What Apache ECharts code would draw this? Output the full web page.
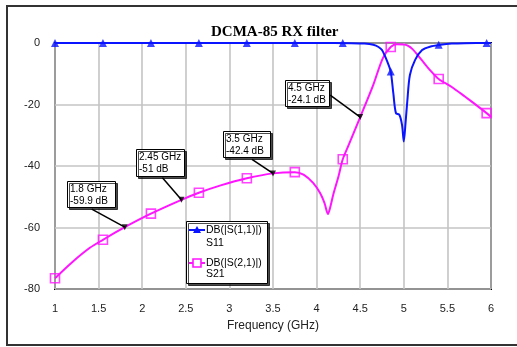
<!DOCTYPE html>
<html>
<head>
<meta charset="utf-8">
<script src="https://cdn.jsdelivr.net/npm/echarts@6/dist/echarts.min.js"></script>
<style>
html,body{margin:0;padding:0;background:#fff;}
#chart{width:517px;height:347px;}
</style>
</head>
<body>
<div id="chart"></div>
<script>
// ---- data ----
const titleText = 'DCMA-85 RX filter';
const xName = 'Frequency (GHz)';
const xTicks = [1, 1.5, 2, 2.5, 3, 3.5, 4, 4.5, 5, 5.5, 6];
const yTicks = [-80, -60, -40, -20, 0];

// S21 curve
const s21Freq = [1.0, 1.2, 1.4, 1.55, 1.8, 2.1, 2.45, 2.65, 2.9, 3.2, 3.5, 3.75, 3.85, 3.96, 4.04, 4.09, 4.13, 4.16, 4.19, 4.25, 4.3, 4.36, 4.5, 4.65, 4.76, 4.85, 4.92, 5.0, 5.04, 5.1, 5.19, 5.3, 5.4, 5.55, 5.7, 5.85, 5.95, 6.0];
const s21Db   = [-76.5, -71.2, -66.6, -64, -59.9, -55.5, -51, -48.7, -46.3, -44, -42.4, -42, -42.8, -45.5, -48.8, -52, -55.6, -53, -49.4, -43.5, -37.8, -33.7, -24.1, -13.6, -4.9, -1.3, -0.4, -0.5, -0.8, -2, -5, -8.8, -11.7, -14.3, -17.4, -20.6, -22.8, -24];
// S21 marker points
const s21MarkFreq = [1.0, 1.55, 2.1, 2.65, 3.2, 3.75, 4.3, 4.85, 5.4, 5.95];
const s21MarkDb   = [-76.5, -64, -55.5, -48.7, -44, -42, -37.8, -1.3, -11.7, -22.8];

// S11 curve
const s11Freq = [1.0, 2.0, 3.0, 4.0, 4.4, 4.55, 4.65, 4.71, 4.75, 4.81, 4.85, 4.88, 4.91, 4.95, 4.98, 5.0, 5.02, 5.04, 5.07, 5.13, 5.21, 5.3, 5.42, 5.55, 5.7, 6.0];
const s11Db   = [0, 0, 0, 0, -0.05, -0.2, -0.6, -1.3, -2.3, -6, -9.3, -16.4, -22.8, -23.4, -26.7, -32, -26, -19, -10.4, -5.5, -2.3, -1.2, -0.6, -0.2, -0.05, 0];
// S11 marker points
const s11MarkFreq = [1.0, 1.55, 2.1, 2.65, 3.2, 3.75, 4.3, 4.85, 5.4, 5.95];
const s11MarkDb   = [0, 0, 0, 0, 0, 0, 0, -9.3, -0.6, 0];

// annotated points
const annFreq = [1.8, 2.45, 3.5, 4.5];
const annDb   = [-59.9, -51, -42.4, -24.1];

const legendNames = ['DB(|S(1,1)|)', 'DB(|S(2,1)|)'];
const legendSub = ['S11', 'S21'];

// ---- layout / style ----
const BLUE = '#0a14ff';
const MAG = '#ff14ff';
const FONT = '"Liberation Sans", Arial, sans-serif';
const annBox = [ // dx, dy (box top-left from point), w, h, leader start dx, dy
  [-58, -46, 48, 26, -33, -18],
  [-45, -51, 48, 27, -19, -22],
  [-50, -42, 47, 26, -21, -14],
  [-75, -37, 44, 26, -30, -22]
];

const zip = (a, b) => a.map((v, i) => [v, b[i]]);

const chart = echarts.init(document.getElementById('chart'), null, {renderer: 'canvas'});
const option = {
  animation: false,
  backgroundColor: '#fff',
  title: {
    text: titleText, left: 206, top: 20,
    textStyle: {fontFamily: '"Liberation Serif", "Times New Roman", serif', fontWeight: 'bold', fontSize: 15, color: '#000'}
  },
  grid: {left: 55, top: 43, width: 436, height: 246, show: true, borderColor: '#000', borderWidth: 2, backgroundColor: 'transparent'},
  xAxis: {
    type: 'value', min: xTicks[0], max: xTicks[xTicks.length - 1], interval: 0.5,
    name: xName, nameLocation: 'middle', nameGap: 31,
    nameTextStyle: {fontFamily: FONT, fontSize: 12, color: '#222'},
    axisLine: {show: false}, axisTick: {show: false},
    axisLabel: {fontFamily: FONT, fontSize: 11, color: '#222', margin: 14},
    splitLine: {show: true, lineStyle: {color: '#c4c4c4', width: 1.6}}
  },
  yAxis: {
    type: 'value', min: yTicks[0], max: yTicks[yTicks.length - 1], interval: 20,
    axisLine: {show: false}, axisTick: {show: false},
    axisLabel: {fontFamily: FONT, fontSize: 11, color: '#222', margin: 15},
    splitLine: {show: true, lineStyle: {color: '#c4c4c4', width: 1.6}}
  },
  series: [
    {name: 'S21', type: 'line', data: zip(s21Freq, s21Db), symbol: 'none', smooth: 0.3,
     lineStyle: {color: MAG, width: 2}, z: 3},
    {name: 'S11', type: 'line', data: zip(s11Freq, s11Db), symbol: 'none', smooth: 0.3,
     lineStyle: {color: BLUE, width: 2}, z: 4},
    {name: 'S21m', type: 'scatter', data: zip(s21MarkFreq, s21MarkDb), symbol: 'rect', symbolSize: 9,
     itemStyle: {color: 'rgba(255,255,255,0)', borderColor: MAG, borderWidth: 1.6}, z: 5, clip: false},
    {name: 'S11m', type: 'scatter', data: zip(s11MarkFreq, s11MarkDb), symbol: 'triangle', symbolSize: 8,
     itemStyle: {color: BLUE}, z: 6, clip: false},
    {name: 'ann', type: 'scatter', data: zip(annFreq, annDb), symbol: 'triangle', symbolRotate: 180, symbolSize: 6,
     itemStyle: {color: '#000'}, z: 8}
  ]
};
chart.setOption(option);

// graphics: outer frame, annotation callouts, legend
const g = [];
g.push({type: 'rect', shape: {x: 7, y: 6, width: 530, height: 339}, style: {fill: 'none', stroke: '#333', lineWidth: 2}, z: 1, silent: true});

annFreq.forEach((f, i) => {
  const p = chart.convertToPixel({gridIndex: 0}, [f, annDb[i]]);
  const b = annBox[i];
  const bx = Math.round(p[0] + b[0]), by = Math.round(p[1] + b[1]);
  g.push({type: 'line', shape: {x1: p[0] + b[4], y1: p[1] + b[5], x2: p[0], y2: p[1]},
    style: {stroke: '#000', lineWidth: 1.5}, z: 20});
  g.push({type: 'rect', shape: {x: bx + 0.5, y: by + 0.5, width: b[2], height: b[3]},
    style: {fill: '#fff', stroke: '#000', lineWidth: 1, shadowColor: 'rgba(0,0,0,0.7)', shadowOffsetX: 2, shadowOffsetY: 2, shadowBlur: 0}, z: 21});
  g.push({type: 'text', style: {text: f + ' GHz\n' + annDb[i] + ' dB', x: bx + 3, y: by + 2, font: '10px ' + FONT, fill: '#000', lineHeight: 12, verticalAlign: 'top', align: 'left'}, z: 22});
});

// legend
const lx = 186, ly = 221;
g.push({type: 'rect', shape: {x: lx + 0.5, y: ly + 0.5, width: 81, height: 62},
  style: {fill: '#fff', stroke: '#000', lineWidth: 1, shadowColor: 'rgba(0,0,0,0.7)', shadowOffsetX: 2, shadowOffsetY: 2, shadowBlur: 0}, z: 30});
const rows = [{c: BLUE, y: ly + 9, y2: ly + 22, sym: 'tri'}, {c: MAG, y: ly + 42, y2: ly + 53, sym: 'sq'}];
rows.forEach((r, i) => {
  g.push({type: 'line', shape: {x1: lx + 3, y1: r.y, x2: lx + 19, y2: r.y}, style: {stroke: r.c, lineWidth: 2}, z: 31});
  if (r.sym === 'tri') {
    g.push({type: 'polygon', shape: {points: [[lx + 11, r.y - 4], [lx + 15, r.y + 3], [lx + 7, r.y + 3]]}, style: {fill: r.c}, z: 32});
  } else {
    g.push({type: 'rect', shape: {x: lx + 7, y: r.y - 4, width: 8, height: 8}, style: {fill: '#fff', stroke: r.c, lineWidth: 1.6}, z: 32});
  }
  g.push({type: 'text', style: {text: legendNames[i], x: lx + 20, y: r.y, font: '10.5px ' + FONT, fill: '#000', verticalAlign: 'middle'}, z: 33});
  g.push({type: 'text', style: {text: legendSub[i], x: lx + 20, y: r.y2, font: '10.5px ' + FONT, fill: '#000', verticalAlign: 'middle'}, z: 33});
});

chart.setOption({graphic: {elements: g}});
</script>
</body>
</html>
